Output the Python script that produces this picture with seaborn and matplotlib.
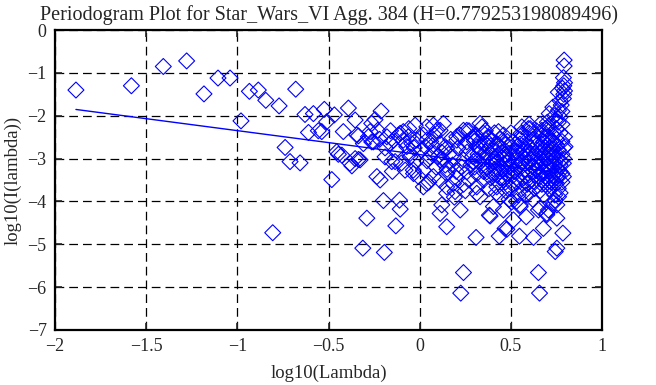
import numpy as np
import pandas as pd
import matplotlib
matplotlib.use("Agg")
import matplotlib.pyplot as plt
import seaborn as sns

# periodogram points (log10 lambda, log10 I(lambda))
x_low = [-1.885, -1.581, -1.406, -1.278, -1.183, -1.106, -1.040, -0.980, -0.934,
         -0.885, -0.844, -0.806, -0.771, -0.738, -0.711, -0.680, -0.656]
y_low = [-1.40, -1.30, -0.85, -0.72, -1.49, -1.12, -1.12, -2.12, -1.43,
         -1.40, -1.64, -4.73, -1.77, -2.74, -3.07, -1.38, -3.10]

x_mid = [-0.629, -0.583, -0.523, -0.468, -0.391, -0.212, -0.610, -0.556, -0.510, -0.419,
         -0.354, -0.336, -0.272, -0.245, -0.230, -0.482, -0.446, -0.372, -0.336, -0.235,
         -0.217, -0.199, -0.111, -0.107, -0.290, -0.131, -0.312, -0.194, -0.309, -0.263,
         -0.180, -0.162, -0.135, -0.107, -0.090, -0.071, -0.025, -0.053, -0.035, -0.007,
         -0.537, -0.345, -0.263, -0.281, -0.254, -0.455, -0.427, -0.382, -0.354, -0.327,
         -0.190, -0.153, -0.080, -0.144, -0.117, -0.090, -0.062, -0.043, -0.053,
         -0.19, -0.16, -0.13, -0.10, -0.06, -0.03, -0.02, -0.15, -0.22]
y_mid = [-1.97, -1.95, -1.85, -1.98, -1.82, -1.89, -2.39, -2.35, -2.14, -2.37,
         -2.10, -2.47, -2.37, -2.09, -2.34, -3.49, -2.90, -3.17, -3.02, -3.42,
         -3.50, -3.98, -3.97, -4.18, -4.39, -4.57, -5.09, -5.19, -2.65, -2.61,
         -2.49, -2.65, -3.07, -2.41, -2.57, -2.72, -2.22, -2.96, -3.27, -3.42,
         -2.37, -2.45, -2.18, -2.49, -2.61, -2.84, -2.92, -3.11, -3.00, -3.03,
         -2.96, -3.07, -3.27, -2.57, -2.45, -2.37, -2.49, -2.65, -2.88,
         -2.75, -2.35, -2.80, -3.10, -2.30, -2.75, -3.05, -3.30, -2.55]

x_band = [0.039, 0.094, 0.030, 0.066, 0.112, 0.039, 0.112, 0.148, 0.075, 0.130,
          0.331, 0.350, -0.016, 0.039, 0.112, 0.148, 0.203, 0.258, 0.313, 0.368,
          0.423, 0.057, 0.130, 0.185, 0.240, 0.295, 0.350, 0.404, 0.459, -0.034,
          0.020, 0.075, 0.148, 0.203, 0.258, 0.313, 0.368, 0.423, 0.478, 0.020,
          0.148, 0.185, 0.313, 0.423, 0.441, 0.121, 0.258, 0.112, 0.240, 0.341,
          0.432, 0.560, 0.596, 0.203, 0.139, 0.295, 0.386, 0.697,
          0.01, 0.04, 0.07, 0.09, 0.12, 0.14, 0.02, 0.08, 0.11, 0.05,
          0.16, 0.18, 0.21, 0.23, 0.26, 0.28, 0.20, 0.24, 0.27, 0.29, 0.17, 0.22, 0.25, 0.19]
y_band = [-2.26, -2.34, -2.72, -2.88, -3.03, -3.58, -4.28, -4.59, -2.22, -2.18,
          -2.18, -2.41, -2.57, -2.57, -2.65, -2.76, -2.57, -2.61, -2.72, -2.69,
          -2.65, -2.96, -3.03, -2.96, -3.03, -3.07, -3.00, -3.07, -3.00, -3.35,
          -3.27, -3.42, -3.35, -3.46, -3.31, -3.35, -3.31, -3.38, -3.35, -3.66,
          -3.66, -3.58, -3.66, -3.66, -3.89, -4.08, -2.34, -2.34, -2.34, -2.26,
          -2.37, -2.26, -2.30, -2.49, -2.72, -2.53, -2.57, -2.34,
          -2.80, -3.05, -2.70, -3.20, -2.85, -3.15, -2.45, -2.45, -3.50, -3.55,
          -2.90, -3.15, -2.75, -3.20, -2.85, -3.15, -3.30, -3.60, -3.50, -2.50, -2.55, -2.45, -3.75, -3.90]

x_deep = [0.222, 0.309, 0.240, 0.225, 0.436, 0.468, 0.547, 0.624, 0.678, 0.785,
          0.752, 0.743, 0.651, 0.657, 0.382, 0.459, 0.584, 0.660, 0.733, 0.752,
          0.697, 0.514, 0.404, 0.331, 0.551, 0.386, 0.478, 0.743, 0.651, 0.697,
          0.148, 0.194, 0.313, 0.505, 0.551, 0.761, 0.752, 0.706]
y_deep = [-4.20, -4.84, -5.66, -6.14, -4.81, -4.63, -4.81, -4.84, -4.63, -4.74,
          -5.09, -5.17, -5.66, -6.14, -4.32, -4.20, -4.36, -4.16, -4.04, -4.39,
          -4.31, -4.43, -4.12, -3.89, -4.12, -4.34, -4.65, -3.97, -4.20, -4.28,
          -3.81, -3.77, -3.81, -4.01, -4.08, -3.89, -4.08, -4.20]

x_tail = [0.792, 0.792, 0.788, 0.794, 0.783, 0.794, 0.788, 0.776, 0.761, 0.770,
          0.743, 0.606, 0.556, 0.706, 0.794, 0.688, 0.670, 0.797, 0.788, 0.788]
y_tail = [-0.70, -0.84, -1.11, -1.23, -1.36, -1.42, -1.60, -1.75, -1.87, -2.03,
          -2.10, -2.30, -2.41, -2.24, -2.49, -2.49, -2.34, -2.72, -3.11, -3.42]

x_blob = [0.46, 0.48, 0.50, 0.47, 0.52, 0.49, 0.51, 0.53, 0.46, 0.50, 0.54, 0.55, 0.53, 0.48,
          0.52, 0.47, 0.55, 0.50, 0.54, 0.46, 0.49, 0.53,
          0.56, 0.58, 0.60, 0.62, 0.64, 0.57, 0.59, 0.61, 0.63, 0.56, 0.58, 0.60, 0.62,
          0.64, 0.57, 0.59, 0.61, 0.63, 0.65, 0.58, 0.62, 0.60, 0.64, 0.56, 0.65, 0.60,
          0.66, 0.67, 0.68, 0.69, 0.70, 0.71, 0.66, 0.67, 0.68, 0.69, 0.70, 0.71, 0.72,
          0.66, 0.67, 0.68, 0.69, 0.70, 0.71, 0.72, 0.72, 0.66, 0.68, 0.70, 0.71, 0.72, 0.69,
          0.73, 0.74, 0.75, 0.76, 0.73, 0.74, 0.75, 0.76, 0.77, 0.78, 0.73, 0.74, 0.75,
          0.76, 0.77, 0.78, 0.73, 0.74, 0.75, 0.76, 0.77, 0.78, 0.79, 0.79, 0.77, 0.78,
          0.78, 0.79, 0.79, 0.77, 0.74, 0.76,
          0.31, 0.33, 0.36, 0.38, 0.40, 0.42, 0.44, 0.32, 0.34, 0.37, 0.39, 0.41, 0.43,
          0.45, 0.35, 0.38, 0.42, 0.44, 0.30, 0.36, 0.41, 0.44]
y_blob = [-2.45, -2.60, -2.75, -2.90, -3.05, -3.20, -3.40, -3.55, -3.50, -3.70, -3.85, -2.55, -2.85, -3.10,
          -3.30, -3.75, -3.15, -2.40, -2.70, -3.25, -3.95, -4.00,
          -2.45, -2.60, -2.40, -2.55, -2.35, -2.80, -2.95, -2.75, -2.90, -3.10, -3.25, -3.10, -3.30,
          -3.05, -3.45, -3.60, -3.50, -3.70, -3.40, -3.85, -3.95, -2.20, -2.70, -3.70, -3.20, -3.80,
          -2.20, -2.45, -2.60, -2.30, -2.50, -2.75, -2.85, -3.00, -2.90, -3.15, -3.00, -3.30, -3.10,
          -3.35, -3.50, -3.30, -3.60, -3.45, -3.70, -2.60, -2.85, -3.75, -3.85, -2.15, -1.95, -3.55, -2.75,
          -1.80, -2.00, -2.30, -2.15, -2.45, -2.65, -2.55, -2.80, -2.40, -2.60, -2.95, -3.10, -3.00,
          -3.25, -3.05, -2.90, -3.40, -3.55, -3.45, -3.70, -3.30, -3.55, -2.75, -3.00, -1.65, -1.90,
          -2.20, -1.30, -1.50, -3.80, -3.85, -1.45,
          -2.45, -2.60, -2.85, -2.50, -2.80, -2.95, -2.55, -2.90, -3.15, -3.20, -3.45, -3.25, -3.55,
          -3.20, -3.50, -3.70, -3.80, -2.75, -3.20, -2.35, -2.40, -3.45]

# extra points filling the saturated core of the cloud
x_core = [0.36, 0.39, 0.43, 0.47, 0.51, 0.55, 0.59, 0.63, 0.67, 0.71, 0.75,
          0.37, 0.41, 0.45, 0.49, 0.53, 0.57, 0.61, 0.65, 0.69, 0.73, 0.77,
          0.35, 0.40, 0.44, 0.48, 0.52, 0.56, 0.60, 0.64, 0.68, 0.72, 0.76,
          0.38, 0.42, 0.46, 0.50, 0.54, 0.58, 0.62, 0.66, 0.70, 0.74, 0.78,
          0.45, 0.49, 0.53, 0.57, 0.61, 0.65, 0.69, 0.73,
          0.47, 0.51, 0.55, 0.59, 0.63, 0.67, 0.71, 0.75,
          0.27, 0.30, 0.33, 0.25, 0.29, 0.32, 0.06, 0.10, 0.15]
y_core = [-2.65, -2.70, -2.68, -2.68, -2.62, -2.66, -2.70, -2.62, -2.66, -2.62, -2.70,
          -2.95, -3.00, -2.98, -3.02, -2.95, -2.98, -3.02, -2.95, -2.98, -2.93, -3.15,
          -3.30, -3.35, -3.30, -3.35, -3.28, -3.32, -3.38, -3.28, -3.33, -3.28, -3.40,
          -3.05, -3.10, -3.12, -3.15, -3.18, -3.12, -3.18, -3.10, -3.20, -3.18, -3.35,
          -2.85, -2.88, -2.82, -2.85, -2.88, -2.80, -2.85, -2.78,
          -3.55, -3.60, -3.52, -3.58, -3.55, -3.60, -3.52, -3.58,
          -2.35, -2.60, -2.78, -2.70, -2.95, -3.05, -2.60, -2.95, -3.25]

# fitted line end points (slope = 1 - 2H)
line_x = [-1.885, 0.790]
line_y = [-1.853, -3.347]

title = "Periodogram Plot for Star_Wars_VI Agg. 384 (H=0.779253198089496)"

df = pd.DataFrame({
    "x": x_low + x_mid + x_band + x_deep + x_tail + x_blob + x_core,
    "y": y_low + y_mid + y_band + y_deep + y_tail + y_blob + y_core,
})
fit = pd.DataFrame({"x": line_x, "y": line_y})

sns.set_style("ticks")
plt.rcParams["font.family"] = ["Liberation Serif", "DejaVu Serif"]
plt.rcParams["axes.unicode_minus"] = True

fig = plt.figure(figsize=(6.56, 3.85), dpi=100)
ax = fig.add_axes([0.0838, 0.1429, 0.834, 0.779])

sns.scatterplot(data=df, x="x", y="y", ax=ax, marker="D", s=66,
                facecolors="none", edgecolor="#0000ff", linewidth=0.8, legend=False)
sns.lineplot(data=fit, x="x", y="y", ax=ax, color="#0000ff", linewidth=1.0, legend=False)

ax.set_xlim(-2, 1)
ax.set_ylim(-7, 0)
ax.set_xticks([-2, -1.5, -1, -0.5, 0, 0.5, 1])
ax.set_xticklabels(["\u22122", "\u22121.5", "\u22121", "\u22120.5", "0", "0.5", "1"])
ax.set_yticks(range(-7, 1))
ax.set_yticklabels(["\u22127", "\u22126", "\u22125", "\u22124", "\u22123", "\u22122", "\u22121", "0"])
ax.grid(True, color="black", linestyle=(0, (7, 4)), linewidth=0.9)
ax.tick_params(direction="in", length=5, width=1.2, top=True, right=True, labelsize=13, pad=6)
for sp in ax.spines.values():
    sp.set_linewidth(1.6)
    sp.set_color("black")

ax.set_title(title, fontsize=14.5, pad=7)
ax.set_xlabel("log10(Lambda)", fontsize=13.5, labelpad=7)
ax.set_ylabel("log10(I(lambda))", fontsize=13.5, labelpad=4)

fig.savefig("out.png", dpi=100)
